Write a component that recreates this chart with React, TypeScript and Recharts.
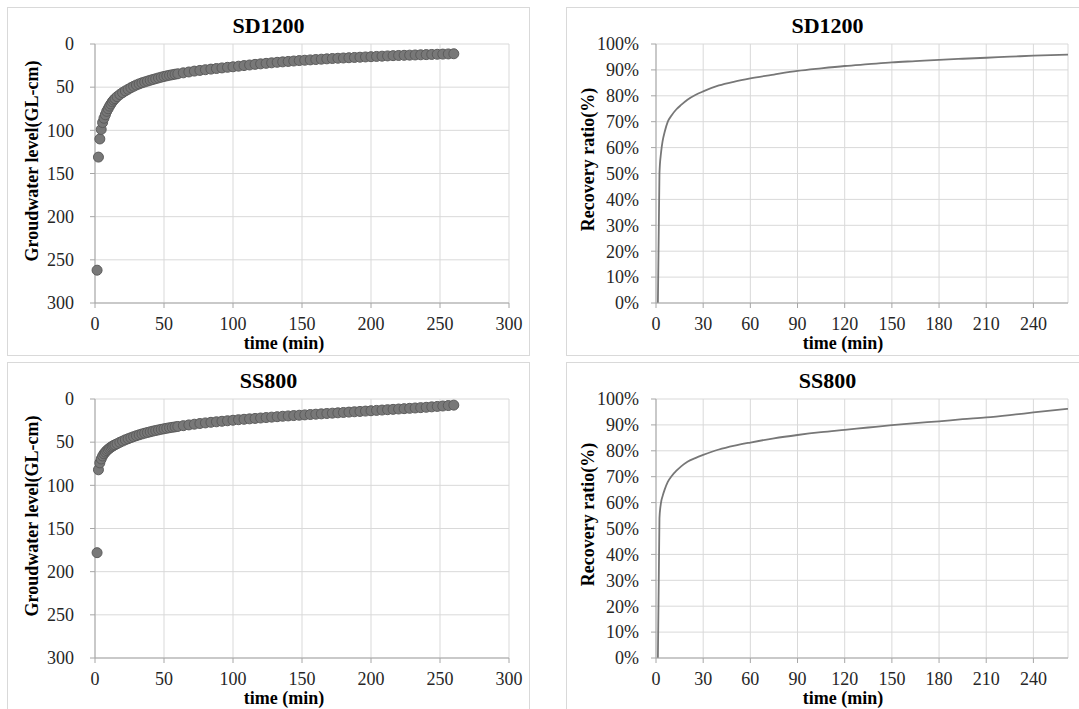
import {
  ScatterChart,
  Scatter,
  LineChart,
  Line,
  XAxis,
  YAxis,
  CartesianGrid,
} from "recharts";

// time (min) of each groundwater reading
const levelTimes = [
  1.5, 2.5, 3.5, 4.5, 5.5, 6.5, 7.5, 8.5, 9.5, 10.5, 11.5, 12.5, 13.5, 14.5,
  16, 18, 20, 22, 24, 26, 28, 30, 32, 34, 36, 38, 40, 42, 44, 46, 48, 50, 52, 54, 56, 58, 60,
  64, 68, 72, 76, 80, 84, 88, 92, 96, 100,
  104, 108, 112, 116, 120, 124, 128, 132, 136, 140,
  144, 148, 152, 156, 160, 164, 168, 172, 176, 180,
  184, 188, 192, 196, 200, 204, 208, 212, 216, 220,
  224, 228, 232, 236, 240, 244, 248, 252, 256, 260,
];

// groundwater level (GL-cm)
const sd1200Level = [
  262, 131, 110, 99, 91, 86, 82, 78, 75, 72, 69.5, 67, 65, 63.3,
  61, 58.5, 56.3, 54.3, 52.5, 50.6, 49, 47.5, 46.2, 45, 44, 43, 42, 41.1, 40.2, 39.3, 38.4, 37.6, 36.9, 36.2, 35.6, 35, 34.5,
  33.4, 32.4, 31.4, 30.6, 29.8, 29.1, 28.4, 27.7, 27.0, 26.4,
  25.7, 25.0, 24.3, 23.6, 23.0, 22.4, 21.8, 21.2, 20.7, 20.2,
  19.7, 19.2, 18.8, 18.4, 18.0, 17.6, 17.2, 16.8, 16.5, 16.2,
  15.9, 15.6, 15.3, 15.0, 14.7, 14.4, 14.1, 13.8, 13.5, 13.3,
  13.1, 12.9, 12.7, 12.5, 12.3, 12.1, 11.9, 11.7, 11.5, 11.3,
];

const ss800Level = [
  178, 82, 74, 69.5, 66, 63.5, 61.5, 59.8, 58.3, 57, 55.8, 54.8, 53.9, 53,
  51.8, 50.2, 48.7, 47.3, 46, 44.8, 43.6, 42.5, 41.5, 40.5, 39.6, 38.8, 38, 37.2, 36.5, 35.8, 35.1, 34.5, 33.9, 33.3, 32.8, 32.3, 31.8,
  30.9, 30.0, 29.2, 28.4, 27.7, 27.0, 26.4, 25.8, 25.2, 24.6,
  24.0, 23.5, 23.0, 22.5, 22.0, 21.5, 21.0, 20.5, 20.0, 19.6,
  19.2, 18.8, 18.4, 18.0, 17.6, 17.2, 16.8, 16.4, 16.0, 15.6,
  15.2, 14.8, 14.4, 14.0, 13.6, 13.2, 12.8, 12.4, 12.0, 11.6,
  11.2, 10.8, 10.4, 10.0, 9.6, 9.1, 8.6, 8.1, 7.6, 7.1,
];

// recovery ratio (%)
const recoveryTimes = [
  1.2, 2.2, 3.2, 4.2, 5.5, 7.5, 10, 13, 16, 20, 25, 30, 40, 50,
  60, 75, 90, 105, 120, 135, 150, 165, 180, 195, 210, 225, 240, 262,
];
const sd1200Recovery = [
  0, 50, 58, 62.5, 66, 70, 72.5, 74.8, 76.5, 78.5, 80.3, 81.7, 84, 85.5,
  86.7, 88.2, 89.6, 90.6, 91.5, 92.2, 92.9, 93.4, 93.9, 94.3, 94.7, 95.1, 95.5, 95.9,
];
const ss800Recovery = [
  0, 54, 60, 62.5, 65, 68, 70.3, 72.3, 74, 75.8, 77.2, 78.4, 80.5, 82,
  83.2, 84.8, 86.1, 87.2, 88.1, 89.0, 89.9, 90.7, 91.4, 92.2, 92.9, 93.8, 94.8, 96.2,
];

const levelTicks = [0, 50, 100, 150, 200, 250, 300];
const levelTimeTicks = [0, 50, 100, 150, 200, 250, 300];
const recoveryTicks = [0, 10, 20, 30, 40, 50, 60, 70, 80, 90, 100];
const recoveryTimeTicks = [0, 30, 60, 90, 120, 150, 180, 210, 240];

const FONT = "'Liberation Serif', 'Times New Roman', Times, serif";
const BOX_W = 523;
const BOX_H = 349;
const GRID = "#d9d9d9";
const AXIS = "#a6a6a6";
const TICK_COLOR = "#262626";

const Marker = (props: any) => (
  <circle cx={props.cx} cy={props.cy} r={5} fill="#787878" stroke="#5c5c5c" strokeWidth={1} />
);

// serif tick labels, drawn by hand so the font sticks
const XTick = (props: any) => (
  <text
    x={props.x}
    y={props.y}
    dy="0.71em"
    textAnchor="middle"
    fontFamily={FONT}
    fontSize={18}
    fill={TICK_COLOR}
  >
    {props.payload.value}
  </text>
);

const YTick = (suffix: string) => (props: any) => (
  <text
    x={props.x}
    y={props.y}
    dy="0.35em"
    textAnchor="end"
    fontFamily={FONT}
    fontSize={18}
    fill={TICK_COLOR}
  >
    {`${props.payload.value}${suffix}`}
  </text>
);

const LevelYTick = YTick("");
const PercentYTick = YTick("%");

function Panel({ left, top, title, yTitle, yTitleX, yTitleY, children }: any) {
  return (
    <div style={{ position: "absolute", left, top, width: BOX_W, height: BOX_H }}>
      <div
        style={{
          position: "absolute",
          left: 0,
          top: 0,
          width: BOX_W,
          height: BOX_H,
          border: "1px solid #d9d9d9",
          boxSizing: "border-box",
        }}
      />
      <div style={{ position: "absolute", left: 0, top: 0 }}>{children}</div>
      <svg
        width={BOX_W}
        height={BOX_H}
        style={{ position: "absolute", left: 0, top: 0, pointerEvents: "none" }}
        fontFamily={FONT}
      >
        <text x={BOX_W / 2} y={26} textAnchor="middle" fontSize={22} fontWeight="bold" fill="#000">
          {title}
        </text>
        <text x={277} y={342} textAnchor="middle" fontSize={18} fontWeight="bold" fill="#000">
          time (min)
        </text>
        <text
          x={yTitleX}
          y={yTitleY}
          textAnchor="middle"
          dominantBaseline="central"
          transform={`rotate(-90 ${yTitleX} ${yTitleY})`}
          fontSize={18}
          fontWeight="bold"
          fill="#000"
        >
          {yTitle}
        </text>
      </svg>
    </div>
  );
}

function LevelChart({ values }: { values: number[] }) {
  const data = levelTimes.map((t, i) => ({ t, h: values[i] }));
  return (
    <ScatterChart width={BOX_W} height={BOX_H} margin={{ top: 37, right: 21, left: 0, bottom: 0 }}>
      <CartesianGrid stroke={GRID} />
      <XAxis
        type="number"
        dataKey="t"
        domain={[0, 300]}
        ticks={levelTimeTicks}
        interval={0}
        height={53}
        tickSize={5}
        tickMargin={9}
        tick={<XTick />}
        axisLine={{ stroke: AXIS }}
        tickLine={{ stroke: AXIS }}
      />
      <YAxis
        type="number"
        dataKey="h"
        domain={[0, 300]}
        ticks={levelTicks}
        interval={0}
        reversed
        width={88}
        tickSize={5}
        tickMargin={16}
        tick={<LevelYTick />}
        axisLine={{ stroke: AXIS }}
        tickLine={{ stroke: AXIS }}
      />
      <Scatter data={data} shape={Marker} isAnimationActive={false} />
    </ScatterChart>
  );
}

function RecoveryChart({ values }: { values: number[] }) {
  const data = recoveryTimes.map((t, i) => ({ t, r: values[i] }));
  return (
    <LineChart width={BOX_W} height={BOX_H} data={data} margin={{ top: 37, right: 21, left: 0, bottom: 0 }}>
      <CartesianGrid stroke={GRID} />
      <XAxis
        type="number"
        dataKey="t"
        domain={[0, 262]}
        ticks={recoveryTimeTicks}
        interval={0}
        height={53}
        tickSize={5}
        tickMargin={9}
        tick={<XTick />}
        axisLine={{ stroke: AXIS }}
        tickLine={{ stroke: AXIS }}
      />
      <YAxis
        type="number"
        domain={[0, 100]}
        ticks={recoveryTicks}
        interval={0}
        width={90}
        tickSize={5}
        tickMargin={12}
        tick={<PercentYTick />}
        axisLine={{ stroke: AXIS }}
        tickLine={{ stroke: AXIS }}
      />
      <Line
        type="monotone"
        dataKey="r"
        stroke="#777777"
        strokeWidth={1.8}
        dot={false}
        isAnimationActive={false}
      />
    </LineChart>
  );
}

export default function App() {
  return (
    <div
      style={{
        position: "absolute",
        left: 0,
        top: 0,
        width: 1079,
        height: 709,
        overflow: "hidden",
        background: "#fff",
      }}
    >
      <Panel left={7} top={7} title="SD1200" yTitle="Groudwater level(GL-cm)" yTitleX={25} yTitleY={154}>
        <LevelChart values={sd1200Level} />
      </Panel>
      <Panel left={566} top={7} title="SD1200" yTitle="Recovery ratio(%)" yTitleX={22} yTitleY={152.5}>
        <RecoveryChart values={sd1200Recovery} />
      </Panel>
      <Panel left={7} top={362} title="SS800" yTitle="Groudwater level(GL-cm)" yTitleX={25} yTitleY={154}>
        <LevelChart values={ss800Level} />
      </Panel>
      <Panel left={566} top={362} title="SS800" yTitle="Recovery ratio(%)" yTitleX={22} yTitleY={152.5}>
        <RecoveryChart values={ss800Recovery} />
      </Panel>
    </div>
  );
}
